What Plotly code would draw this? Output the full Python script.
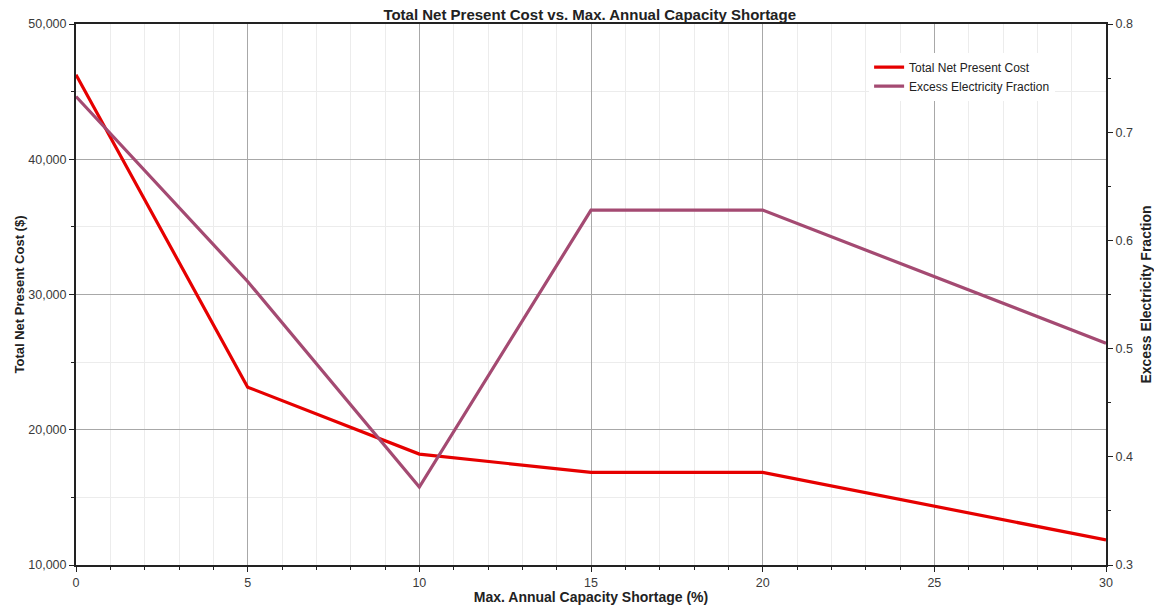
import plotly.graph_objects as go

x_vals = [0, 5, 10, 15, 20, 30]
npc = [46250, 23150, 18200, 16850, 16850, 11850]
eef = [0.733, 0.562, 0.372, 0.628, 0.628, 0.505]

left_ticks = [10000, 20000, 30000, 40000, 50000]
left_labels = ["10,000", "20,000", "30,000", "40,000", "50,000"]
right_ticks = [0.3, 0.4, 0.5, 0.6, 0.7, 0.8]
right_labels = ["0.3", "0.4", "0.5", "0.6", "0.7", "0.8"]
x_ticks = [0, 5, 10, 15, 20, 25, 30]

FONT = "Liberation Sans, Arial, sans-serif"
RED = "#e60000"
PURPLE = "#a44a72"

fig = go.Figure()
fig.add_trace(go.Scatter(x=x_vals, y=npc, mode="lines", name="Total Net Present Cost",
                         line=dict(color=RED, width=3.2), yaxis="y"))
fig.add_trace(go.Scatter(x=x_vals, y=eef, mode="lines", name="Excess Electricity Fraction",
                         line=dict(color=PURPLE, width=3.2), yaxis="y2"))

fig.update_layout(
    width=1154, height=605,
    margin=dict(l=76, r=48, t=24, b=40, autoexpand=False),
    plot_bgcolor="white", paper_bgcolor="white",
    font=dict(family=FONT, size=12, color="#333"),
    title=dict(text="<b>Total Net Present Cost vs. Max. Annual Capacity Shortage</b>",
               x=0.511, xanchor="center", y=1 - 15 / 605, yanchor="middle",
               font=dict(family=FONT, size=15, color="#222")),
    xaxis=dict(range=[0, 30], tickvals=x_ticks, ticks="outside", ticklen=5, tickcolor="#222",
               showline=True, linecolor="#222", linewidth=2, mirror=True, automargin=False,
               showgrid=True, gridcolor="#a8a8a8", gridwidth=1, zeroline=False,
               minor=dict(dtick=1, showgrid=True, gridcolor="#ececec", ticks="outside", ticklen=3, tickcolor="#222"),
               title=dict(text="<b>Max. Annual Capacity Shortage (%)</b>", standoff=0,
                          font=dict(family=FONT, size=14, color="#222")),
               tickfont=dict(family=FONT, size=12.5, color="#3a3a3a")),
    yaxis=dict(range=[10000, 50000], tickvals=left_ticks, ticktext=left_labels,
               ticks="outside", ticklen=5, tickcolor="#222", automargin=False,
               showline=True, linecolor="#222", linewidth=2,
               showgrid=True, gridcolor="#a8a8a8", gridwidth=1, zeroline=False,
               minor=dict(dtick=5000, showgrid=True, gridcolor="#ececec", ticks="outside", ticklen=3, tickcolor="#222"),
               title=dict(text="<b>Total Net Present Cost ($)</b>", standoff=1,
                          font=dict(family=FONT, size=13, color="#222")),
               tickfont=dict(family=FONT, size=12.5, color="#3a3a3a")),
    yaxis2=dict(range=[0.3, 0.8], tickvals=right_ticks, ticktext=right_labels,
                overlaying="y", side="right", automargin=False,
                ticks="outside", ticklen=5, tickcolor="#222",
                showline=True, linecolor="#222", linewidth=2,
                showgrid=False, zeroline=False,
                minor=dict(dtick=0.05, ticks="outside", ticklen=3, tickcolor="#222"),
                title=dict(text="<b>Excess Electricity Fraction</b>", standoff=10,
                           font=dict(family=FONT, size=14, color="#222")),
                tickfont=dict(family=FONT, size=12.5, color="#3a3a3a")),
    legend=dict(x=0.770, y=0.947, xanchor="left", yanchor="top",
                bgcolor="white", borderwidth=0,
                font=dict(family=FONT, size=12, color="#222"),
                tracegroupgap=0, itemwidth=30),
    showlegend=True,
)

fig.write_html("out.html", config={"displayModeBar": False},
               post_script="document.body.style.margin='0';")
